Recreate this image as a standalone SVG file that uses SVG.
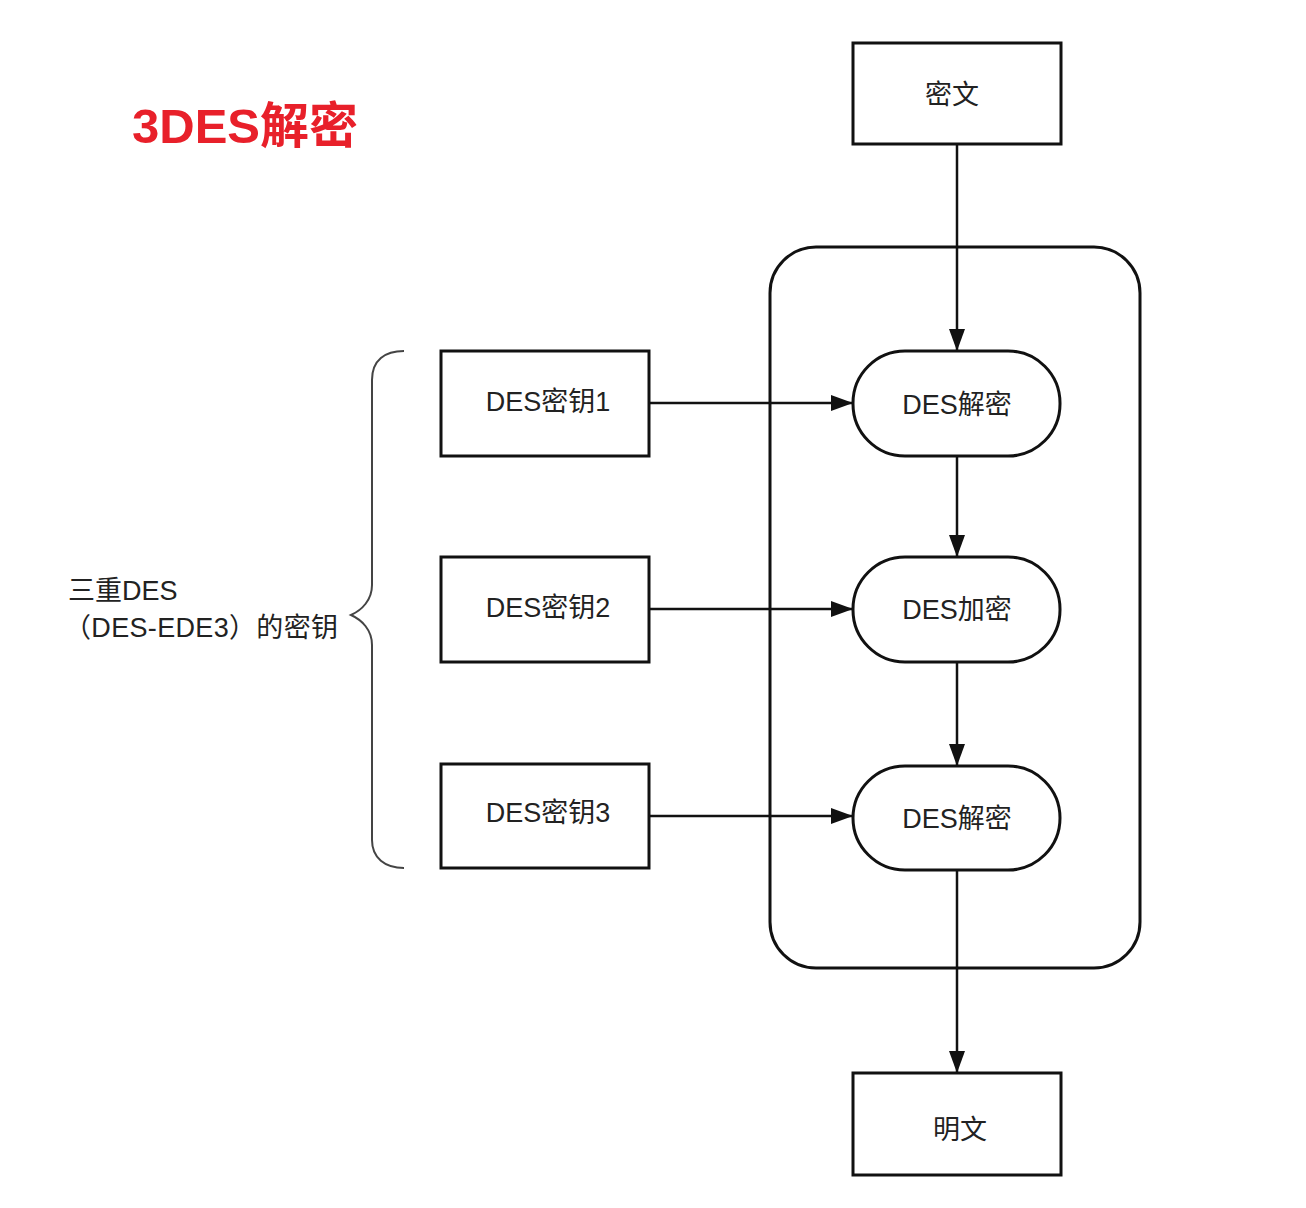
<svg xmlns="http://www.w3.org/2000/svg" width="1306" height="1208" viewBox="0 0 1306 1208">
<defs>
<style>
.box{fill:#fff;stroke:#111;stroke-width:3}
.pill{fill:#fff;stroke:#111;stroke-width:3}
.t{font-family:"Liberation Sans","Noto Sans CJK SC",sans-serif;font-size:27px;fill:#222;text-anchor:middle;dominant-baseline:central}
.lbl{font-family:"Liberation Sans","Noto Sans CJK SC",sans-serif;font-size:27px;fill:#222}
.ln{stroke:#111;stroke-width:2.5;fill:none}
</style>
<marker id="ah" viewBox="0 0 22 16" refX="22" refY="8" markerWidth="22" markerHeight="16" markerUnits="userSpaceOnUse" orient="auto">
<path d="M0,0 L22,8 L0,16 Z" fill="#111"/>
</marker>
</defs>
<rect width="1306" height="1208" fill="#fff"/>
<text x="132" y="143" font-family="Liberation Sans,'Noto Sans CJK SC',sans-serif" font-size="49" font-weight="bold" fill="#e8202a">3DES解密</text>
<g id="frame"><rect x="770" y="247" width="370" height="721" rx="46" ry="46" fill="none" stroke="#111" stroke-width="3"/></g>
<g id="connectors">
<line class="ln" x1="957" y1="144" x2="957" y2="351" marker-end="url(#ah)"/>
<line class="ln" x1="957" y1="456" x2="957" y2="557" marker-end="url(#ah)"/>
<line class="ln" x1="957" y1="662" x2="957" y2="766" marker-end="url(#ah)"/>
<line class="ln" x1="957" y1="870" x2="957" y2="1073" marker-end="url(#ah)"/>
<line class="ln" x1="649" y1="403" x2="853" y2="403" marker-end="url(#ah)"/>
<line class="ln" x1="649" y1="609" x2="853" y2="609" marker-end="url(#ah)"/>
<line class="ln" x1="649" y1="816" x2="853" y2="816" marker-end="url(#ah)"/>
</g>
<g id="ciphertext"><rect class="box" x="853" y="43" width="208" height="101"/><text class="t" x="952" y="95">密文</text></g>
<g id="dec1"><rect class="pill" x="853" y="351" width="207" height="105" rx="52" ry="52"/><text class="t" x="957" y="405">DES解密</text></g>
<g id="enc2"><rect class="pill" x="853" y="557" width="207" height="105" rx="52" ry="52"/><text class="t" x="957" y="610">DES加密</text></g>
<g id="dec3"><rect class="pill" x="853" y="766" width="207" height="104" rx="52" ry="52"/><text class="t" x="957" y="819">DES解密</text></g>
<g id="plaintext"><rect class="box" x="853" y="1073" width="208" height="102"/><text class="t" x="960" y="1130">明文</text></g>
<g id="key1"><rect class="box" x="441" y="351" width="208" height="105"/><text class="t" x="548" y="402">DES密钥1</text></g>
<g id="key2"><rect class="box" x="441" y="557" width="208" height="105"/><text class="t" x="548" y="608">DES密钥2</text></g>
<g id="key3"><rect class="box" x="441" y="764" width="208" height="104"/><text class="t" x="548" y="813">DES密钥3</text></g>
<g id="brace">
<path d="M404,351 C385,351 372,360 372,380 L372,585 C372,600 362,610 351,615 C362,620 372,630 372,645 L372,840 C372,858 385,868 404,868" fill="none" stroke="#444" stroke-width="2"/>
</g>
<g id="keys-label">
<text class="lbl" x="68" y="600">三重DES</text>
<text class="lbl" x="64" y="637" textLength="274" lengthAdjust="spacing">（DES-EDE3）的密钥</text>
</g>
</svg>
